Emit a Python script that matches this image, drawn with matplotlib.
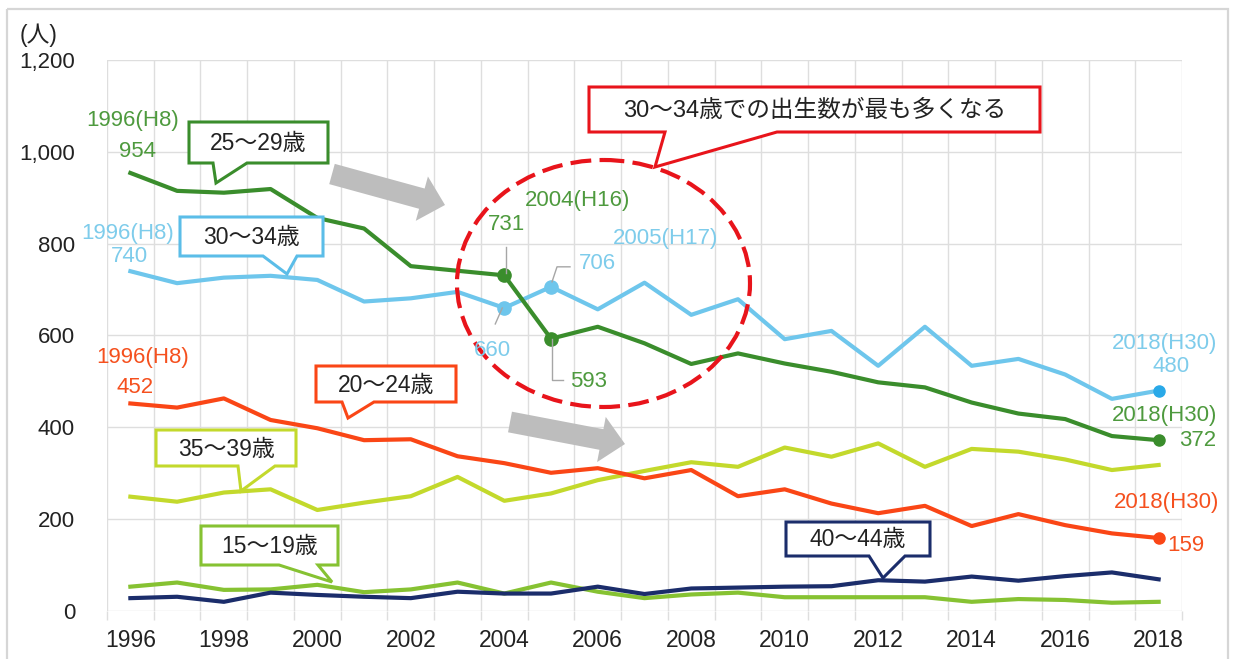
import numpy as np
import matplotlib
matplotlib.use("Agg")
import matplotlib.pyplot as plt
from matplotlib.patches import Polygon, Ellipse, FancyArrow, Rectangle
from matplotlib.ticker import FuncFormatter, MultipleLocator

plt.rcParams['font.family'] = ['Liberation Sans', 'Noto Sans CJK JP']

# === DATA ===
years = list(range(1996, 2019))
age_15_19 = [53, 62, 46, 47, 57, 41, 47, 62, 38, 62, 42, 28, 36, 40, 30, 30, 30, 30, 20, 26, 24, 18, 20]
age_20_24 = [452, 443, 463, 416, 398, 372, 374, 337, 322, 301, 311, 289, 307, 250, 265, 234, 213, 229, 185, 211, 187, 169, 159]
age_25_29 = [954, 915, 911, 919, 856, 833, 751, 741, 731, 593, 619, 583, 538, 561, 539, 521, 498, 487, 454, 430, 418, 381, 372]
age_30_34 = [740, 714, 726, 730, 721, 674, 681, 695, 660, 706, 657, 715, 645, 679, 592, 610, 534, 619, 534, 549, 515, 462, 480]
age_35_39 = [249, 238, 258, 265, 220, 236, 250, 292, 240, 256, 285, 305, 324, 314, 356, 336, 365, 314, 353, 347, 330, 307, 318]
age_40_44 = [28, 31, 20, 40, 35, 31, 28, 42, 38, 38, 53, 37, 49, 51, 53, 54, 67, 64, 75, 66, 76, 84, 69]

# === COLORS ===
C_1519 = '#86C232'
C_2024 = '#FA4616'
C_2529 = '#3A8D2C'
C_3034 = '#6EC6EC'
C_3539 = '#C3D92C'
C_4044 = '#1B2D6B'
LBL_GREEN = '#4E9A3E'
LBL_BLUE = '#7ECCEB'
LBL_RED = '#F5501E'

W, H = 1237, 659
fig = plt.figure(figsize=(W / 100, H / 100), dpi=100)
ax = fig.add_axes([107 / W, (H - 611) / H, (1182 - 107) / W, (611 - 60) / H])

# === LINES ===
lw = 3.0
ax.plot(years, age_15_19, color=C_1519, lw=lw, zorder=3)
ax.plot(years, age_40_44, color=C_4044, lw=lw, zorder=3)
ax.plot(years, age_35_39, color=C_3539, lw=lw, zorder=3)
ax.plot(years, age_20_24, color=C_2024, lw=lw, zorder=3)
ax.plot(years, age_30_34, color=C_3034, lw=lw, zorder=3)
ax.plot(years, age_25_29, color=C_2529, lw=lw, zorder=4)

# highlighted points
i04, i05 = years.index(2004), years.index(2005)
ax.plot([2004, 2005], [age_30_34[i04], age_30_34[i05]], 'o', color=C_3034, ms=9.5, lw=0, zorder=5)
ax.plot([2004, 2005], [age_25_29[i04], age_25_29[i05]], 'o', color=C_2529, ms=9.5, lw=0, zorder=5)
ax.plot(2018, age_30_34[-1], 'o', color='#29A9E8', ms=8, zorder=5)
ax.plot(2018, age_25_29[-1], 'o', color=C_2529, ms=8, zorder=5)
ax.plot(2018, age_20_24[-1], 'o', color=C_2024, ms=8, zorder=5)

# === AXES ===
ax.set_xlim(1995.5, 2018.5)
ax.set_ylim(0, 1200)
ax.xaxis.set_major_locator(MultipleLocator(2))
ax.xaxis.set_minor_locator(MultipleLocator(1, offset=0.5))
ax.yaxis.set_major_locator(MultipleLocator(200))
ax.yaxis.set_major_formatter(FuncFormatter(lambda v, p: f"{int(v):,}"))
ax.grid(which='minor', axis='x', color='#DEDEDE', lw=1)
ax.grid(which='major', axis='y', color='#DEDEDE', lw=1)
ax.tick_params(axis='x', which='major', length=0, pad=13, labelsize=16.5, labelcolor='#222222')
ax.tick_params(axis='x', which='minor', length=6.5, color='#DEDEDE', width=1)
ax.tick_params(axis='y', length=0, pad=23, labelsize=16, labelcolor='#222222')
for s in ax.spines.values():
    s.set_visible(False)
ax.set_axisbelow(True)

# === OVERLAY (pixel coordinates) ===
ov = fig.add_axes([0, 0, 1, 1], zorder=5)
ov.set_xlim(0, W)
ov.set_ylim(H, 0)
ov.axis('off')
ov.patch.set_alpha(0)

ov.add_patch(Rectangle((7, 9), 1221, 700, fill=False, ec='#D6D6D6', lw=1.6))
ov.text(39, 35, '(人)', ha='center', va='center', fontsize=16.5, color='#222222')


def to_px(x, y):
    dx, dy = ax.transData.transform((x, y))
    return dx, H - dy


def label(x, y, dx, dy, s, color):
    px, py = to_px(x, y)
    ov.text(px + dx, py + dy, s, ha='center', va='center', fontsize=16, color=color)


def callout(left, top, right, bottom, t1, t2, tip, color, text, fs=16.5):
    pts = [(left, top), (right, top), (right, bottom), (t2, bottom), tip, (t1, bottom), (left, bottom)]
    ov.add_patch(Polygon(pts, closed=True, fc='white', ec=color, lw=2.2, joinstyle='miter'))
    ov.text((left + right) / 2, (top + bottom) / 2 + 1, text, ha='center', va='center',
            fontsize=fs, color='#222222')


# grey trend arrows
ov.add_patch(FancyArrow(332, 174, 113, 31, width=21, head_width=46, head_length=24,
                        length_includes_head=True, color='#BDBDBD', lw=0))
ov.add_patch(FancyArrow(510, 422, 115, 22, width=21, head_width=46, head_length=24,
                        length_includes_head=True, color='#BDBDBD', lw=0))

# red dashed ellipse
ov.add_patch(Ellipse((603.5, 283.5), 293, 247, fill=False, ec='#E8141B', lw=3, ls=(0, (5, 2))))

# callout boxes
callout(189, 122, 328, 163, 213, 247, (216, 183), C_2529, '25～29歳')
callout(180, 217, 323, 256, 263, 297, (287, 274), '#5BBDE8', '30～34歳')
callout(589, 87, 1040, 132, 665, 777, (655, 167), '#E8141B', '30～34歳での出生数が最も多くなる', fs=17)
callout(316, 366, 456, 402, 342, 374, (348, 418), C_2024, '20～24歳')
callout(156, 430, 296, 466, 238, 275, (241, 491), C_3539, '35～39歳')
callout(201, 526, 338, 565, 279, 318, (332, 582), C_1519, '15～19歳')
callout(786, 522, 930, 556, 869, 905, (883, 578), C_4044, '40～44歳')

# data labels
label(1996, age_25_29[0], 2.5, -52, '1996(H8)', LBL_GREEN)
label(1996, age_25_29[0], 7.5, -21, f"{age_25_29[0]}", LBL_GREEN)
label(1996, age_30_34[0], -2.5, -38, '1996(H8)', LBL_BLUE)
label(1996, age_30_34[0], -0.5, -15, f"{age_30_34[0]}", LBL_BLUE)
label(1996, age_20_24[0], 12.5, -46, '1996(H8)', LBL_RED)
label(1996, age_20_24[0], 4.5, -16, f"{age_20_24[0]}", LBL_RED)

label(2004, age_25_29[i04], 73, -75, '2004(H16)', LBL_GREEN)
label(2004, age_25_29[i04], 2, -51, f"{age_25_29[i04]}", LBL_GREEN)
label(2005, age_25_29[i05], 38, 43, f"{age_25_29[i05]}", LBL_GREEN)
label(2004, age_30_34[i04], -12, 43, f"{age_30_34[i04]}", LBL_BLUE)
label(2005, age_30_34[i05], 46, -23, f"{age_30_34[i05]}", LBL_BLUE)
label(2005, age_30_34[i05], 115, -48, '2005(H17)', LBL_BLUE)

label(2018, age_30_34[-1], 6, -47, '2018(H30)', LBL_BLUE)
label(2018, age_30_34[-1], 12, -24, f"{age_30_34[-1]}", LBL_BLUE)
label(2018, age_25_29[-1], 6, -25, '2018(H30)', LBL_GREEN)
label(2018, age_25_29[-1], 39, 0, f"{age_25_29[-1]}", LBL_GREEN)
label(2018, age_20_24[-1], 8, -35, '2018(H30)', LBL_RED)
label(2018, age_20_24[-1], 27, 8, f"{age_20_24[-1]}", LBL_RED)

# leader lines
lead = dict(color='#A6A6A6', lw=1)
x, y = to_px(2004, age_25_29[i04])
ov.plot([x + 2, x + 2], [y - 28, y - 2], **lead)
x, y = to_px(2005, age_25_29[i05])
ov.plot([x + 1, x + 1, x + 12], [y, y + 41, y + 41], **lead)
x, y = to_px(2004, age_30_34[i04])
ov.plot([x - 2, x - 9], [y, y + 16], **lead)
x, y = to_px(2005, age_30_34[i05])
ov.plot([x + 1, x + 6, x + 19], [y - 5, y - 20, y - 20], **lead)

fig.savefig('out.png', dpi=100)
